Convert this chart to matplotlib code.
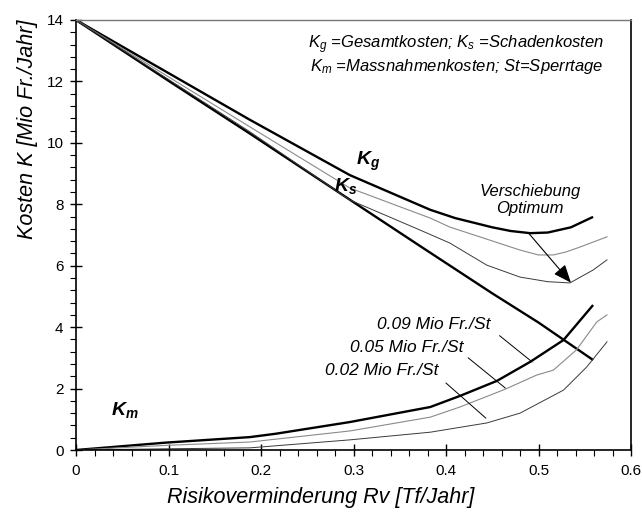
import matplotlib
matplotlib.use("Agg")
import matplotlib.pyplot as plt
from matplotlib.ticker import MultipleLocator

plt.rcParams['font.family'] = ['Liberation Sans', 'DejaVu Sans']
plt.rcParams['mathtext.fontset'] = 'custom'
plt.rcParams['mathtext.rm'] = 'Liberation Sans'
plt.rcParams['mathtext.it'] = 'Liberation Sans:italic'
plt.rcParams['mathtext.bf'] = 'Liberation Sans:bold:italic'

# Schadenkosten Ks
rv_s = [0.0, 0.1, 0.188, 0.3, 0.375, 0.45, 0.5, 0.559]
ks = [14.0, 12.02, 10.3, 8.07, 6.58, 5.1, 4.15, 2.93]

# Massnahmenkosten Km for 0.09 / 0.05 / 0.02 Mio Fr./St
rv_m09 = [0.0, 0.097, 0.188, 0.216, 0.296, 0.383, 0.415, 0.455, 0.491, 0.527, 0.559]
km_09 = [0.0, 0.24, 0.42, 0.53, 0.91, 1.40, 1.76, 2.25, 2.87, 3.58, 4.72]
rv_m05 = [0.0, 0.097, 0.188, 0.296, 0.383, 0.415, 0.464, 0.498, 0.516, 0.541, 0.563, 0.574]
km_05 = [0.0, 0.15, 0.26, 0.62, 1.07, 1.40, 1.98, 2.44, 2.60, 3.26, 4.17, 4.40]
rv_m02 = [0.0, 0.1, 0.188, 0.296, 0.383, 0.444, 0.48, 0.527, 0.552, 0.574]
km_02 = [0.0, 0.04, 0.07, 0.33, 0.58, 0.88, 1.20, 1.95, 2.70, 3.52]

# Gesamtkosten Kg for 0.09 / 0.05 / 0.02 Mio Fr./St
rv_g09 = [0.0, 0.188, 0.296, 0.383, 0.41, 0.45, 0.47, 0.491, 0.51, 0.535, 0.559]
kg_09 = [14.0, 10.75, 8.95, 7.82, 7.55, 7.25, 7.13, 7.06, 7.08, 7.25, 7.59]
rv_g05 = [0.0, 0.188, 0.296, 0.383, 0.404, 0.48, 0.5, 0.516, 0.53, 0.545, 0.574]
kg_05 = [14.0, 10.52, 8.53, 7.55, 7.26, 6.51, 6.35, 6.35, 6.45, 6.61, 6.94]
rv_g02 = [0.0, 0.188, 0.296, 0.372, 0.404, 0.444, 0.48, 0.51, 0.534, 0.559, 0.574]
kg_02 = [14.0, 10.36, 8.14, 7.16, 6.74, 6.02, 5.63, 5.48, 5.44, 5.86, 6.19]

# optimum shift arrow (from Kg 0.09 minimum to Kg 0.02 minimum)
opt_start = (0.489, 7.07)
opt_end = (0.535, 5.45)

fig = plt.figure(figsize=(6.42, 5.14), dpi=100)
ax = fig.add_axes([0.1184, 0.1245, 0.9829 - 0.1184, 0.9611 - 0.1245])

thick = dict(color='black', lw=1.7, solid_capstyle='butt')
mid = dict(color='#8a8a8a', lw=0.8)
thin = dict(color='#3a3a3a', lw=0.7)

ax.plot(rv_s, ks, **thick)
ax.plot(rv_g09, kg_09, **thick)
ax.plot(rv_m09, km_09, **thick)
ax.plot(rv_g05, kg_05, **mid)
ax.plot(rv_m05, km_05, **mid)
ax.plot(rv_g02, kg_02, **thin)
ax.plot(rv_m02, km_02, **thin)

ax.set_xlim(0, 0.6)
ax.set_ylim(0, 14)
ax.xaxis.set_major_locator(MultipleLocator(0.1))
ax.xaxis.set_minor_locator(MultipleLocator(0.02))
ax.yaxis.set_major_locator(MultipleLocator(2))
ax.yaxis.set_minor_locator(MultipleLocator(0.4))
ax.xaxis.set_major_formatter(plt.FuncFormatter(lambda v, p: '0' if abs(v) < 1e-9 else f'{v:.1f}'))
ax.yaxis.set_major_formatter(plt.FuncFormatter(lambda v, p: f'{v:.0f}'))
ax.tick_params(which='major', direction='inout', length=8, width=1.0, labelsize=11, color='black')
ax.tick_params(which='minor', direction='out', length=4, width=0.8, color='black')
ax.tick_params(axis='x', which='major', pad=6)
ax.tick_params(axis='y', which='major', pad=5)

for side in ['left', 'bottom']:
    ax.spines[side].set_linewidth(1.2)
ax.spines['top'].set_color('#777777')
ax.spines['top'].set_linewidth(1.0)
ax.spines['right'].set_linewidth(1.2)

ax.set_xlabel('Risikoverminderung Rv [Tf/Jahr]', fontsize=15.5, style='italic')
ax.xaxis.set_label_coords(0.441, -0.085)
ax.set_ylabel('Kosten K [Mio Fr./Jahr]', fontsize=15.5, style='italic')
ax.yaxis.set_label_coords(-0.069, 0.745)

ax.text(0.411, 13.19, r'$\mathit{K}_{\mathit{g}}$ =Gesamtkosten; $\mathit{K}_{\mathit{s}}$ =Schadenkosten',
        fontsize=12, style='italic', ha='center', va='center')
ax.text(0.411, 12.47, r'$\mathit{K}_{\mathit{m}}$ =Massnahmenkosten; St=Sperrtage',
        fontsize=12, style='italic', ha='center', va='center')

ax.text(0.316, 9.40, r'$\mathbf{K_g}$', fontsize=14, ha='center', va='center')
ax.text(0.291, 8.60, r'$\mathbf{K_s}$', fontsize=14, ha='center', va='center')
ax.text(0.053, 1.30, r'$\mathbf{K_m}$', fontsize=14, ha='center', va='center')

ax.text(0.491, 8.14, 'Verschiebung\nOptimum', fontsize=12, style='italic',
        ha='center', va='center', linespacing=1.2)
ax.annotate('', xy=opt_end, xytext=opt_start,
            arrowprops=dict(arrowstyle='-|>,head_length=1.1,head_width=0.45',
                            color='black', lw=0.8, shrinkA=0, shrinkB=0))

labels = ['0.09 Mio Fr./St', '0.05 Mio Fr./St', '0.02 Mio Fr./St']
label_pos = [(0.448, 4.07), (0.419, 3.34), (0.392, 2.60)]
leader_a = [(0.458, 3.72), (0.424, 3.00), (0.400, 2.18)]
leader_b = [(0.493, 2.87), (0.464, 2.02), (0.443, 1.04)]
for lab, pos, a, b in zip(labels, label_pos, leader_a, leader_b):
    ax.text(pos[0], pos[1], lab, fontsize=12.5, style='italic', ha='right', va='center')
    ax.plot([a[0], b[0]], [a[1], b[1]], color='black', lw=0.7)

fig.savefig('out.png', dpi=100)
